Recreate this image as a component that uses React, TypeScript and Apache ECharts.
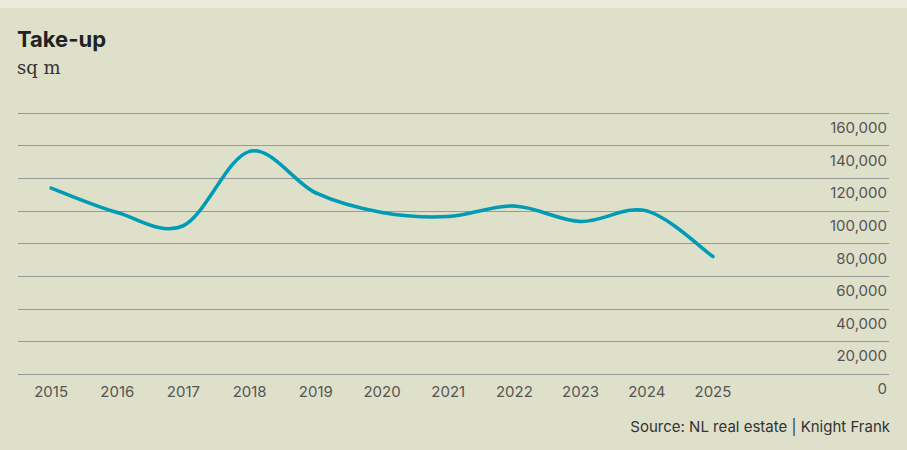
import React, { useEffect, useRef } from "react";
import * as echarts from "echarts";

const years = [2015, 2016, 2017, 2018, 2019, 2020, 2021, 2022, 2023, 2024, 2025];
const takeUp = [114000, 99000, 91000, 136500, 111000, 99000, 96500, 103000, 93500, 100000, 72000];
const yTicks = { min: 0, max: 160000, interval: 20000 };

export default function App() {
  const ref = useRef<HTMLDivElement>(null);
  useEffect(() => {
    if (!ref.current) return;
    const chart = echarts.init(ref.current, undefined, { renderer: "svg" });
    const gridColor = "#979a98";
    const lineColor = "#009bb4";
    const renderCurve = (params: any, api: any) => {
      if (params.dataIndex !== 0) return { type: "group", children: [] };
      const pts = years.map((y, i) => api.coord([y, takeUp[i]]));
      const n = pts.length;
      const k = 1 / 6;
      const children: any[] = [];
      for (let i = 0; i < n - 1; i++) {
        const p0 = pts[Math.max(i - 1, 0)];
        const p1 = pts[i];
        const p2 = pts[i + 1];
        const p3 = pts[Math.min(i + 2, n - 1)];
        children.push({
          type: "bezierCurve",
          shape: {
            x1: p1[0],
            y1: p1[1],
            cpx1: p1[0] + (p2[0] - p0[0]) * k,
            cpy1: p1[1] + (p2[1] - p0[1]) * k,
            cpx2: p2[0] - (p3[0] - p1[0]) * k,
            cpy2: p2[1] - (p3[1] - p1[1]) * k,
            x2: p2[0],
            y2: p2[1],
          },
          style: { stroke: lineColor, lineWidth: 3.5, fill: "none", lineCap: "round" },
        });
      }
      return { type: "group", children };
    };
    chart.setOption({
      animation: false,
      backgroundColor: "#dfe0ca",
      grid: { left: 18, right: 18, top: 105, bottom: 76 },
      graphic: [
        {
          type: "text",
          left: 17,
          top: 20,
          style: { text: "Take-up", fontFamily: "Inter", fontWeight: 700, fontSize: 22, fill: "#222222" },
        },
        {
          type: "text",
          left: 17,
          top: 50,
          style: { text: "sq m", fontFamily: "DejaVu Serif", fontSize: 18, fill: "#333333" },
        },
        {
          type: "text",
          right: 17,
          top: 411,
          style: { text: "Source: NL real estate | Knight Frank", fontFamily: "Inter", fontSize: 15, fill: "#333333" },
        },
      ],
      xAxis: {
        type: "value",
        min: 2014.5,
        max: 2027.66,
        splitLine: { show: false },
        axisLine: { show: false },
        axisTick: { show: false },
        axisLabel: {
          customValues: years,
          margin: 10,
          color: "#555555",
          fontFamily: "Inter",
          fontSize: 15,
          formatter: (v: number) => String(Math.round(v)),
        },
      },
      yAxis: {
        type: "value",
        position: "right",
        min: yTicks.min,
        max: yTicks.max,
        interval: yTicks.interval,
        axisLine: { show: false },
        axisTick: { show: false },
        splitLine: { show: true, lineStyle: { color: gridColor, width: 1 } },
        axisLabel: {
          inside: true,
          margin: 2,
          verticalAlign: "top",
          padding: [7, 0, 0, 0],
          color: "#555555",
          fontFamily: "Inter",
          fontSize: 15,
          formatter: (v: number) => v.toLocaleString("en-US"),
        },
      },
      series: [
        {
          type: "custom",
          data: years.map((y, i) => [y, takeUp[i]]),
          renderItem: renderCurve,
        },
      ],
    });
    return () => chart.dispose();
  }, []);
  return (
    <div style={{ position: "fixed", left: 0, top: 0, width: 907, height: 450, background: "#eaeadd" }}>
      <div ref={ref} style={{ position: "absolute", left: 0, top: 8, width: 907, height: 442 }} />
    </div>
  );
}
